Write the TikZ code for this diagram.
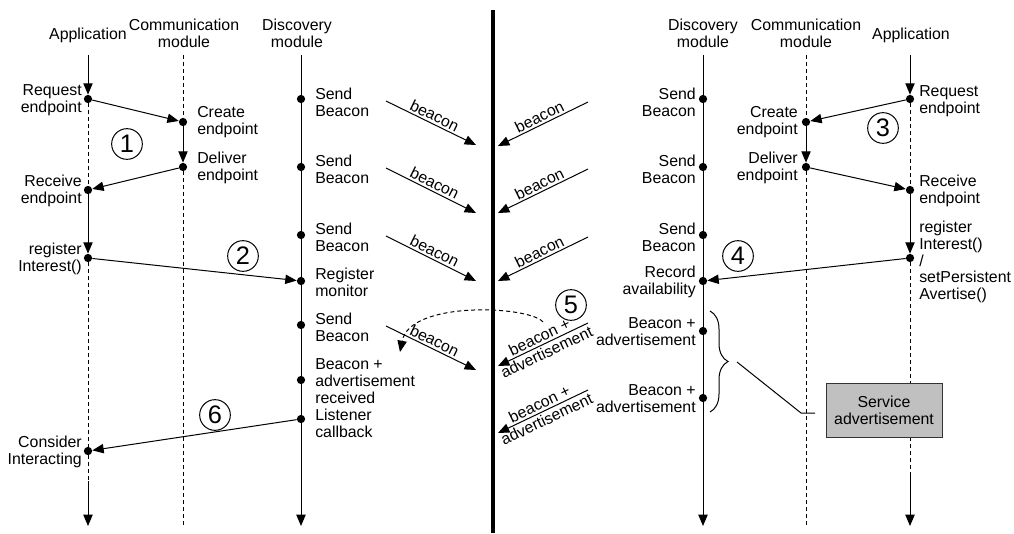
\documentclass[tikz,border=0pt]{standalone}
\usepackage{fontspec}
\setmainfont{Liberation Sans}
\usetikzlibrary{arrows.meta,decorations.pathreplacing}

\begin{document}
\begin{tikzpicture}[x=0.75pt,y=-0.75pt,
  txt/.style={font=\fontsize{11.9}{12.6}\selectfont, inner sep=0pt},
  hdr/.style={txt, align=center},
  tl/.style={txt, align=right, anchor=east},
  tr/.style={txt, align=left, anchor=west},
  dot/.style={circle, fill=black, inner sep=0pt, minimum size=6.2pt},
  thin line/.style={line width=0.75pt},
  arr/.style={thin line, -{Triangle[length=8.5pt,width=7pt]}},
  rarr/.style={thin line, {Triangle[length=8.5pt,width=7pt]}-},
  dsh/.style={thin line, dash pattern=on 3pt off 2.25pt},
  num/.style={circle, draw, thin line, minimum size=23pt, inner sep=0pt,
              font=\fontsize{19}{19}\selectfont},
  msg/.style={txt, inner sep=1.5pt, sloped},
  svc/.style={draw=black!80, thin line, fill={rgb,255:red,192;green,192;blue,192},
              minimum width=87pt, minimum height=41pt, txt, align=center}
]
\useasboundingbox (0,0) rectangle (1014,533);

% ---------- column headers ----------
\node[hdr] (lhApp)  at (88,35)  {Application};
\node[hdr] (lhCom)  at (184,33) {Communication\\module};
\node[hdr] (lhDisc) at (297,33) {Discovery\\module};
\node[hdr] (rhDisc) at (703,33) {Discovery\\module};
\node[hdr] (rhCom)  at (806,33) {Communication\\module};
\node[hdr] (rhApp)  at (911,35) {Application};

% ---------- lifeline end points ----------
\coordinate (lAppTop) at (88,55);
\coordinate (lAppMid) at (88,481);
\coordinate (lAppBot) at (88,526);
\coordinate (lComTop) at (183,55);
\coordinate (lComBot) at (183,526);
\coordinate (lDiscTop) at (301,55);
\coordinate (lDiscBot) at (301,526);
\coordinate (rDiscTop) at (703,55);
\coordinate (rDiscBot) at (703,526);
\coordinate (rComTop) at (806,55);
\coordinate (rComBot) at (806,526);
\coordinate (rAppTop) at (910,55);
\coordinate (rAppMid) at (910,475);
\coordinate (rAppBot) at (910,526);
\coordinate (wallTop) at (493,10);
\coordinate (wallBot) at (493,533);

% ---------- event dots, left node ----------
\node[dot] (lreq)     at (88,99)  {};
\node[dot] (lrecv)    at (88,190) {};
\node[dot] (lreg)     at (88,258) {};
\node[dot] (lcons)    at (88,451) {};
\node[dot] (lcreate)  at (183,122) {};
\node[dot] (ldeliver) at (183,167) {};
\node[dot] (ld1)      at (301,99)  {};
\node[dot] (ld2)      at (301,167) {};
\node[dot] (ld3)      at (301,235) {};
\node[dot] (ldreg)    at (301,281) {};
\node[dot] (ld4)      at (301,325) {};
\node[dot] (ldadv)    at (301,380) {};
\node[dot] (ldlist)   at (301,419) {};

% ---------- event dots, right node ----------
\node[dot] (rreq)     at (910,99)  {};
\node[dot] (rrecv)    at (910,190) {};
\node[dot] (rreg)     at (910,258) {};
\node[dot] (rcreate)  at (806,122) {};
\node[dot] (rdeliver) at (806,167) {};
\node[dot] (rd1)      at (703,99)  {};
\node[dot] (rd2)      at (703,167) {};
\node[dot] (rd3)      at (703,235) {};
\node[dot] (rdrec)    at (703,281) {};
\node[dot] (rdadv1)   at (703,331) {};
\node[dot] (rdadv2)   at (703,398) {};

% ---------- lifelines, left node ----------
\draw[arr] (lAppTop) -- (lreq);
\draw[dsh] (lreq) -- (lrecv);
\draw[arr] (lrecv) -- (lreg);
\draw[dsh] (lreg) -- (lcons);
\draw[dsh] (lcons) -- (lAppMid);
\draw[arr] (lAppMid) -- (lAppBot);
\draw[dsh] (lComTop) -- (lcreate);
\draw[arr] (lcreate) -- (ldeliver);
\draw[dsh] (ldeliver) -- (lComBot);
\draw[arr] (lDiscTop) -- (lDiscBot);

% ---------- lifelines, right node ----------
\draw[arr] (rAppTop) -- (rreq);
\draw[dsh] (rreq) -- (rrecv);
\draw[arr] (rrecv) -- (rreg);
\draw[dsh] (rreg) -- (rAppMid);
\draw[arr] (rAppMid) -- (rAppBot);
\draw[dsh] (rComTop) -- (rcreate);
\draw[arr] (rcreate) -- (rdeliver);
\draw[dsh] (rdeliver) -- (rComBot);
\draw[arr] (rDiscTop) -- (rDiscBot);

% ---------- separating wall ----------
\draw[line width=3.4pt] (wallTop) -- (wallBot);

% ---------- event labels, left node ----------
\node[tl] (tlreq)  at (82,100) {Request\\endpoint};
\node[tl] (tlrecv) at (82,191) {Receive\\endpoint};
\node[tl] (tlreg)  at (82,259) {register\\Interest()};
\node[tl] (tlcons) at (82,452) {Consider\\Interacting};
\node[tr] (tlcre)  at (197,122) {Create\\endpoint};
\node[tr] (tldel)  at (197,168) {Deliver\\endpoint};
\node[tr] (tld1)   at (315,102) {Send\\Beacon};
\node[tr] (tld2)   at (315,169) {Send\\Beacon};
\node[tr] (tld3)   at (315,237) {Send\\Beacon};
\node[tr] (tldreg) at (315,282) {Register\\monitor};
\node[tr] (tld4)   at (315,327) {Send\\Beacon};
\node[tr] (tldadv) at (315,381) {Beacon +\\advertisement\\received};
\node[tr] (tldlis) at (315,423) {Listener\\callback};

% ---------- event labels, right node ----------
\node[tr] (trreq)  at (919,101) {Request\\endpoint};
\node[tr] (trrecv) at (919,191) {Receive\\endpoint};
\node[tr] (trreg)  at (919,262) {register\\Interest()\\/\\setPersistent\\Avertise()};
\node[tl] (trcre)  at (798,122) {Create\\endpoint};
\node[tl] (trdel)  at (798,168) {Deliver\\endpoint};
\node[tl] (trd1)   at (696,102) {Send\\Beacon};
\node[tl] (trd2)   at (696,169) {Send\\Beacon};
\node[tl] (trd3)   at (696,237) {Send\\Beacon};
\node[tl] (trdrec) at (696,282) {Record\\availability};
\node[tl] (trdad1) at (696,332) {Beacon +\\advertisement};
\node[tl] (trdad2) at (696,399) {Beacon +\\advertisement};

% ---------- local messages ----------
\draw[arr] (lreq) -- (lcreate);
\draw[arr] (ldeliver) -- (lrecv);
\draw[arr] (lreg) -- (ldreg);
\draw[arr] (ldlist) -- (lcons);
\draw[arr] (rreq) -- (rcreate);
\draw[arr] (rdeliver) -- (rrecv);
\draw[arr] (rreg) -- (rdrec);

% ---------- beacons sent by the left node ----------
\coordinate (bl1s) at (386,101); \coordinate (bl1e) at (476,145);
\coordinate (bl2s) at (386,168); \coordinate (bl2e) at (476,213);
\coordinate (bl3s) at (386,236); \coordinate (bl3e) at (476,281);
\coordinate (bl4s) at (386,326); \coordinate (bl4e) at (476,370);
\draw[arr] (bl1s) -- node[msg, above] {beacon} (bl1e);
\draw[arr] (bl2s) -- node[msg, above] {beacon} (bl2e);
\draw[arr] (bl3s) -- node[msg, above] {beacon} (bl3e);
\draw[arr] (bl4s) -- node[msg, above] {beacon} (bl4e);

% ---------- beacons sent by the right node ----------
\coordinate (br1s) at (588,102); \coordinate (br1e) at (498,146);
\coordinate (br2s) at (588,169); \coordinate (br2e) at (498,213);
\coordinate (br3s) at (588,237); \coordinate (br3e) at (498,281);
\coordinate (br4s) at (588,323); \coordinate (br4e) at (498,366);
\coordinate (br5s) at (588,390); \coordinate (br5e) at (498,433);
\draw[rarr] (br1e) -- node[msg, above] {beacon} (br1s);
\draw[rarr] (br2e) -- node[msg, above] {beacon} (br2s);
\draw[rarr] (br3e) -- node[msg, above] {beacon} (br3s);
\draw[rarr] (br4e) -- node[msg, above] {beacon +} node[msg, below] {advertisement} (br4s);
\draw[rarr] (br5e) -- node[msg, above] {beacon +} node[msg, below] {advertisement} (br5s);

% ---------- advertisement reaching the left node ----------
\coordinate (arcS) at (543,322);
\coordinate (arcE) at (400,352);
\draw[dsh, arr] (arcS) .. controls (530,306) and (410,300) .. (arcE);

% ---------- step numbers ----------
\node[num] (n1) at (127,144) {1};
\node[num] (n2) at (243,256) {2};
\node[num] (n3) at (883,128) {3};
\node[num] (n4) at (738,256) {4};
\node[num] (n5) at (571,305) {5};
\node[num] (n6) at (215,415) {6};

% ---------- service advertisement callout ----------
\coordinate (brTop) at (710,311);
\coordinate (brBot) at (710,412);
\draw[thin line, decorate, decoration={brace, amplitude=13.5pt}] (brTop) -- (brBot);
\coordinate (coA) at (737,362);
\coordinate (coB) at (801,413);
\coordinate (coC) at (815,413);
\draw[thin line] (coA) -- (coB) -- (coC);
\node[svc] (svc) at (884,410.5) {Service\\advertisement};

\end{tikzpicture}
\end{document}
